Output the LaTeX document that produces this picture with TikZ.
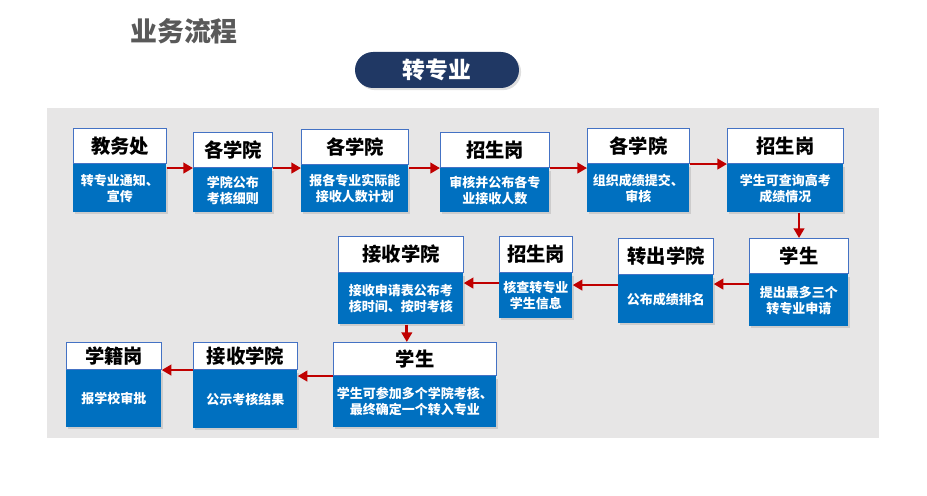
\documentclass[tikz,border=0pt]{standalone}
\usepackage{fontspec}
\setmainfont{Noto Sans CJK SC}
\usepackage{tikz}
\usetikzlibrary{calc,positioning,arrows.meta,shadows}
\definecolor{bodyblue}{HTML}{0070C0}
\definecolor{edgeblue}{HTML}{4472C4}
\definecolor{flowred}{HTML}{C00000}
\definecolor{panelgray}{HTML}{E7E6E6}
\definecolor{titlegray}{HTML}{595959}
\definecolor{pillnavy}{HTML}{203864}

\begin{document}
\begin{tikzpicture}[x=0.02cm, y=-0.02cm,
  head/.style={draw=edgeblue,line width=0.6pt,fill=white,anchor=north west,inner sep=0pt,font=\fontsize{11}{13}\selectfont\bfseries},
  body/.style={fill=bodyblue,anchor=north west,inner sep=0pt,text=white,align=center,font=\fontsize{7.4}{9}\selectfont\bfseries,
    drop shadow={shadow xshift=1.2pt,shadow yshift=-1.2pt,opacity=0.25}},
  flow/.style={-{Triangle[length=5.5pt,width=6pt]},draw=flowred,line width=1.6pt}]
              \useasboundingbox (0,0) rectangle (927,496);
              \fill[panelgray] (47,108) rectangle (879,438);

              \node[text=titlegray,font=\fontsize{15.3}{17}\selectfont\bfseries] (title) at (184,31) {业务流程};
              \node[fill=pillnavy,rounded corners=0.36cm,minimum width=3.28cm,minimum height=0.72cm,text=white,
                font=\fontsize{13}{15}\selectfont\bfseries,drop shadow={shadow xshift=1.2pt,shadow yshift=-1.2pt,opacity=0.25}] (pill) at (437,70) {转专业};

              % first row
              \node[head,minimum width=1.86cm,minimum height=0.70cm] (h1) at (73,128) {教务处};
              \node[body,minimum width=1.86cm,minimum height=0.96cm] (b1) at (h1.south west) {转专业通知、\\宣传};
              \node[head,minimum width=1.58cm,minimum height=0.70cm] (h2) at (193,132) {各学院};
              \node[body,minimum width=1.58cm,minimum height=0.88cm] (b2) at (h2.south west) {学院公布\\考核细则};
              \node[head,minimum width=2.14cm,minimum height=0.70cm] (h3) at (301,129) {各学院};
              \node[body,minimum width=2.14cm,minimum height=0.94cm] (b3) at (h3.south west) {报各专业实际能\\接收人数计划};
              \node[head,minimum width=2.18cm,minimum height=0.70cm] (h4) at (440,132) {招生岗};
              \node[body,minimum width=2.18cm,minimum height=0.88cm] (b4) at (h4.south west) {审核并公布各专\\业接收人数};
              \node[head,minimum width=2.04cm,minimum height=0.70cm] (h5) at (587,128) {各学院};
              \node[body,minimum width=2.04cm,minimum height=0.96cm] (b5) at (h5.south west) {组织成绩提交、\\审核};
              \node[head,minimum width=2.32cm,minimum height=0.70cm] (h6) at (727,128) {招生岗};
              \node[body,minimum width=2.32cm,minimum height=0.96cm] (b6) at (h6.south west) {学生可查询高考\\成绩情况};

              % second row
              \node[head,minimum width=1.98cm,minimum height=0.70cm] (h7) at (749,238) {学生};
              \node[body,minimum width=1.98cm,minimum height=1.04cm] (b7) at (h7.south west) {提出最多三个\\转专业申请};
              \node[head,minimum width=1.90cm,minimum height=0.72cm] (h8) at (618,238) {转出学院};
              \node[body,minimum width=1.90cm,minimum height=0.96cm] (b8) at (h8.south west) {公布成绩排名};
              \node[head,minimum width=1.46cm,minimum height=0.72cm] (h9) at (499,236) {招生岗};
              \node[body,minimum width=1.46cm,minimum height=0.90cm] (b9) at (h9.south west) {核查转专业\\学生信息};
              \node[head,minimum width=2.50cm,minimum height=0.72cm] (h10) at (338,236) {接收学院};
              \node[body,minimum width=2.50cm,minimum height=1.02cm] (b10) at (h10.south west) {接收申请表公布考\\核时间、按时考核};

              % third row
              \node[head,minimum width=3.26cm,minimum height=0.66cm] (h11) at (333,342) {学生};
              \node[body,minimum width=3.26cm,minimum height=1.02cm] (b11) at (h11.south west) {学生可参加多个学院考核、\\最终确定一个转入专业};
              \node[head,minimum width=2.08cm,minimum height=0.54cm] (h12) at (193,342) {接收学院};
              \node[body,minimum width=2.08cm,minimum height=1.16cm] (b12) at (h12.south west) {公示考核结果};
              \node[head,minimum width=1.90cm,minimum height=0.54cm] (h13) at (66,342) {学籍岗};
              \node[body,minimum width=1.90cm,minimum height=1.14cm] (b13) at (h13.south west) {报学校审批};

              \draw[flow] (b1.east |- h2.south) -- (h2.south west);
              \draw[flow] (b2.east |- h2.south) -- (b2.east |- h2.south -| h3.west);
              \draw[flow] (b3.east |- h4.south) -- (h4.south west);
              \draw[flow] (b4.east |- h4.south) -- (h4.south -| h5.west);
              \draw[flow] (b5.east |- h6.south) -- (h6.south west);
              \draw[flow] (b6.south -| h7.north) -- (h7.north);
              \draw[flow] ([yshift=-5.7pt]b7.north west) -- ([yshift=-5.7pt]b7.north west -| b8.east);
              \draw[flow] ([yshift=-5.7pt]b8.north west) -- ([yshift=-5.7pt]b8.north west -| b9.east);
              \draw[flow] ([yshift=-5.7pt]b9.north west) -- ([yshift=-5.7pt]b9.north west -| b10.east);
              \draw[flow] ([xshift=3.4pt]b10.south) -- ([xshift=3.4pt]b10.south |- h11.north);
              \draw[flow] (h11.south west) -- (h11.south west -| b12.east);
              \draw[flow] (b12.north west) -- (b12.north west -| b13.east);
            \end{tikzpicture}
\end{document}
